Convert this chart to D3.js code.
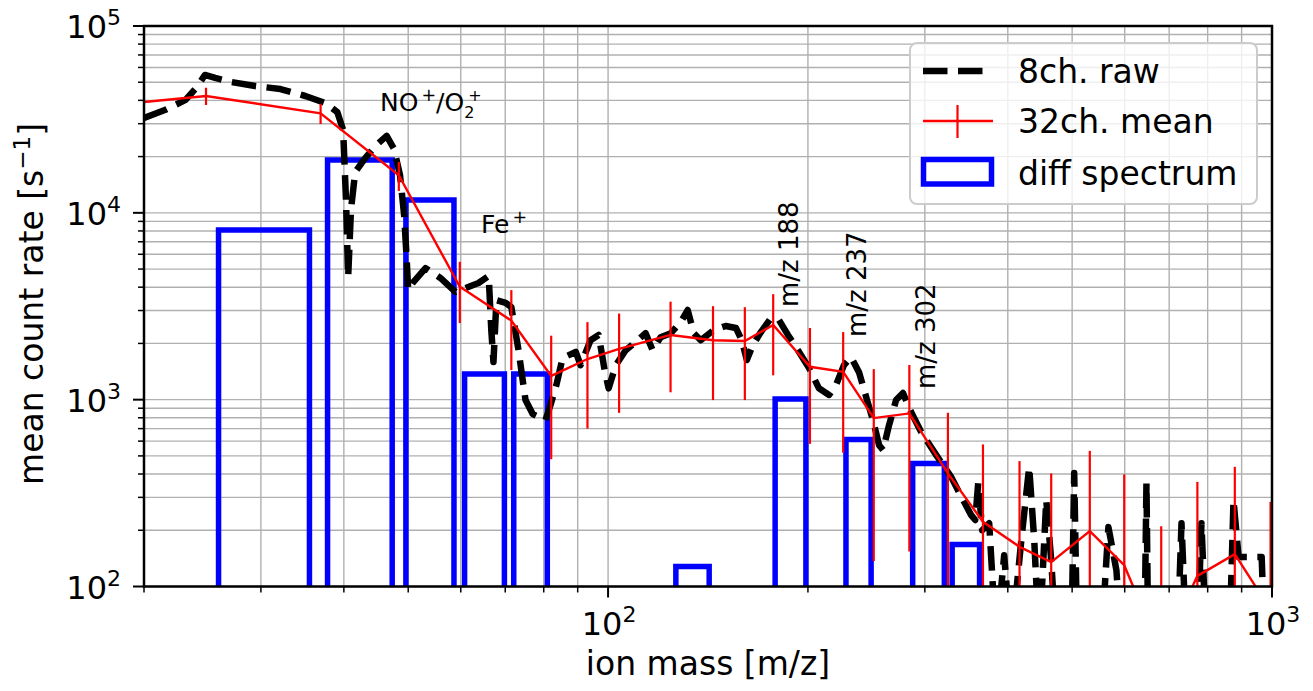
<!DOCTYPE html>
<html><head><meta charset="utf-8">
<script src="https://cdn.jsdelivr.net/npm/d3@7"></script>
<style>body{margin:0;background:#fff}</style>
</head><body>
<svg id="c" width="1313" height="691" xmlns="http://www.w3.org/2000/svg"></svg>
<script>
// ---------- data ----------
const rawMass = [20,21.5,23.1,24.1,24.7,25.6,27.0,29.4,32.1,35.0,37.5,39.1,39.9,40.3,40.6,41.0,41.6,43.1,44.8,46.4,47.6,48.6,49.3,49.7,50.0,50.9,53.1,55.9,58.9,61.0,63.8,66.1,66.7,67.2,67.9,70.1,71.5,73.3,75.1,77.0,80.5,81.9,83.6,85.4,89.4,90.9,94.1,96.8,98.8,100.2,102.7,106.3,110.8,113.9,116.7,120.0,124.3,128.7,131.8,134.6,137.9,144.3,150.4,155.8,159.0,161.8,165.2,169.9,175.9,180.9,186.6,193.2,200.7,207.8,215.2,220.5,226.6,232.2,238.8,245.5,250.6,256.0,259.5,265.0,271.5,278.1,286.0,296.2,312.1,328.8,342.6,352.3,357.3,361.0,366.0,375.0,384.2,395.0,404.8,419.2,430.8,438.4,446.1,457.1,465,473.2,498.7,503.6,508.9,553.4,567.0,583,593,642.5,647,651,720.5,730.6,743,772,783,796,863,875,890.6,964.8,975,1000];
const rawRate = [32200,35500,40200,47700,54700,52700,50200,47700,46000,42200,38700,34600,27700,11700,4530,10400,16500,19700,23100,25800,22000,15900,9730,5940,3860,4260,5060,4480,3770,3960,4210,4590,2360,1590,3410,3300,3130,1840,995,837,778,936,1200,1670,1800,1530,2080,2220,1440,1150,1530,1840,2080,2270,1840,2160,2270,2600,3020,2270,2080,2360,2480,2420,2080,1630,1960,2300,2730,2670,2220,1840,1480,1150,1060,1200,1530,1690,1400,995,778,571,537,731,995,1085,858,671,505,385,290,241,227,358,200,218,50,147,50,177,436,177,50,290,138,50,50,405,50,50,208,122,50,50,358,50,50,218,50,50,218,50,50,290,144,144,50,50];

const meanMass = [15.2,24.8,36.9,48.4,59.8,71.5,82.1,93.1,103.9,124.2,143.9,160.7,177.3,201.4,226,251.3,284.3,325,367,416.6,465,531.6,599,681,772,879,995];
const meanRate = [35600,42200,34100,15900,4020,2650,1340,1650,1870,2220,2080,2060,2510,1500,1410,797,844,403,222,163,135,198,130,44,114,149,75];
const meanErr  = [4000,4450,4200,2800,1450,1210,860,950,1020,1125,1085,1065,1160,920,890,660,690,448,354,306,268,334,268,166,249,288,209];

const diffLeft  = [25.9,37.8,49.6,60.8,72.1,126.5,178.5,228.2,287.6,329.8];
const diffRight = [35.5,47.3,58.6,69.8,81.0,142,198.6,249,321,362.7];
const diffRate  = [8090,19200,11700,1370,1370,128,1007,613,456,168];

const xDomain = [20, 1000];
const yDomain = [100, 100000];
const xMajorTicks = [100, 1000];
const xTickExp = ["2", "3"];
const yMajorTicks = [100, 1000, 10000, 100000];
const yTickExp = ["2", "3", "4", "5"];
const legendLabels = ["8ch. raw", "32ch. mean", "diff spectrum"];
const peakLabels = ["m/z 188", "m/z 237", "m/z 302"];

// ---------- layout ----------
const L = 144, R = 1272, T = 26, B = 586.5;
const svg = d3.select("#c");
const FONT = "DejaVu Sans, sans-serif";
const x = d3.scaleLog().domain(xDomain).range([L, R]);
const y = d3.scaleLog().domain(yDomain).range([B, T]);

svg.append("defs").append("clipPath").attr("id","clip")
  .append("rect").attr("x",L).attr("y",T).attr("width",R-L).attr("height",B-T);

const xMinor = [];
[10,100].forEach(d => { for (let k=2;k<=9;k++){ const v=d*k; if(v>=xDomain[0]&&v<=xDomain[1]) xMinor.push(v);} });
const yMinor = [];
[100,1000,10000].forEach(d => { for (let k=2;k<=9;k++) yMinor.push(d*k); });

// grid
const grid = svg.append("g").attr("stroke","#b0b0b0").attr("stroke-width",1.4);
xMinor.concat(xMajorTicks).forEach(v => grid.append("line").attr("x1",x(v)).attr("x2",x(v)).attr("y1",T).attr("y2",B));
yMinor.concat(yMajorTicks).forEach(v => grid.append("line").attr("y1",y(v)).attr("y2",y(v)).attr("x1",L).attr("x2",R));

const plot = svg.append("g").attr("clip-path","url(#clip)");

// diff spectrum bars
plot.selectAll("path.bar").data(diffRate).enter().append("path")
  .attr("class","bar")
  .attr("d",(d,i)=>`M${x(diffLeft[i])},${B+20}V${y(d)}H${x(diffRight[i])}V${B+20}`)
  .attr("fill","none").attr("stroke","#0000ff").attr("stroke-width",5.5);

// raw dashed line
const line = d3.line().x(d=>x(d[0])).y(d=>y(d[1]));
plot.append("path").datum(rawMass.map((m,i)=>[m,rawRate[i]]))
  .attr("d",line).attr("fill","none").attr("stroke","#000").attr("stroke-width",6.5)
  .attr("stroke-dasharray","24.5 10.5").attr("stroke-linejoin","round");

// mean line with error bars
plot.append("path").datum(meanMass.map((m,i)=>[m,meanRate[i]]))
  .attr("d",line).attr("fill","none").attr("stroke","#ff0000").attr("stroke-width",2.4);
plot.selectAll("line.err").data(meanMass).enter().append("line")
  .attr("x1",d=>x(d)).attr("x2",d=>x(d))
  .attr("y1",(d,i)=>{const lo=meanRate[i]-meanErr[i]; return lo>0? y(lo): B+40;})
  .attr("y2",(d,i)=>y(meanRate[i]+meanErr[i]))
  .attr("stroke","#ff0000").attr("stroke-width",2.2);

// spines
svg.append("rect").attr("x",L).attr("y",T).attr("width",R-L).attr("height",B-T)
  .attr("fill","none").attr("stroke","#000").attr("stroke-width",2.5);

// ticks
const tk = svg.append("g").attr("stroke","#000").attr("stroke-width",2);
xMajorTicks.forEach(v=>tk.append("line").attr("x1",x(v)).attr("x2",x(v)).attr("y1",B).attr("y2",B+11));
xMinor.forEach(v=>tk.append("line").attr("x1",x(v)).attr("x2",x(v)).attr("y1",B).attr("y2",B+6).attr("stroke-width",1.5));
yMajorTicks.forEach(v=>tk.append("line").attr("y1",y(v)).attr("y2",y(v)).attr("x1",L).attr("x2",L-11));
yMinor.forEach(v=>tk.append("line").attr("y1",y(v)).attr("y2",y(v)).attr("x1",L).attr("x2",L-6).attr("stroke-width",1.5));

// tick labels
xMajorTicks.forEach((v,i)=>{
  const t = svg.append("text").attr("x",x(v)+1).attr("y",635).attr("text-anchor","middle")
    .attr("font-family",FONT).attr("font-size",32).attr("fill","#000");
  t.append("tspan").text("10");
  t.append("tspan").attr("dy",-13).attr("font-size",22).text(xTickExp[i]);
});
yMajorTicks.forEach((v,i)=>{
  const t = svg.append("text").attr("x",121).attr("y",y(v)+12).attr("text-anchor","end")
    .attr("font-family",FONT).attr("font-size",32).attr("fill","#000");
  t.append("tspan").text("10");
  t.append("tspan").attr("dy",-13).attr("font-size",22).text(yTickExp[i]);
});

// axis labels
svg.append("text").attr("x",(L+R)/2).attr("y",675).attr("text-anchor","middle")
  .attr("font-family",FONT).attr("font-size",33).text("ion mass [m/z]");
const yl = svg.append("text").attr("transform","translate(43,304) rotate(-90)").attr("text-anchor","middle")
  .attr("font-family",FONT).attr("font-size",33);
yl.append("tspan").text("mean count rate [s");
yl.append("tspan").attr("dy",-13).attr("font-size",23).text("\u22121");
yl.append("tspan").attr("dy",13).text("]");

// annotations
const no = svg.append("text").attr("x",380).attr("y",111).attr("font-family",FONT).attr("font-size",25);
no.append("tspan").text("NO");
no.append("tspan").attr("dx",3).attr("dy",-10).attr("font-size",17.5).text("+");
no.append("tspan").attr("dy",10).text("/O");
no.append("tspan").attr("dy",7).attr("font-size",16).text("2");
no.append("tspan").attr("dx",-6).attr("dy",-17).attr("font-size",16).text("+");
const fe = svg.append("text").attr("x",481).attr("y",233).attr("font-family",FONT).attr("font-size",25);
fe.append("tspan").text("Fe");
fe.append("tspan").attr("dx",3).attr("dy",-10).attr("font-size",17.5).text("+");
const peakPos = [[798,307],[866,337],[935,389]];
peakLabels.forEach((s,i)=>{
  svg.append("text").attr("transform",`translate(${peakPos[i][0]},${peakPos[i][1]}) rotate(-90)`)
    .attr("font-family",FONT).attr("font-size",26).text(s);
});

// legend
const lg = svg.append("g");
lg.append("rect").attr("x",910).attr("y",43).attr("width",347).attr("height",161).attr("rx",7)
  .attr("fill","#fff").attr("fill-opacity",0.8).attr("stroke","#cccccc").attr("stroke-width",2);
lg.append("line").attr("x1",923).attr("x2",993).attr("y1",71).attr("y2",71)
  .attr("stroke","#000").attr("stroke-width",6.5).attr("stroke-dasharray","24.5 10.5");
lg.append("line").attr("x1",923).attr("x2",993).attr("y1",121).attr("y2",121)
  .attr("stroke","#ff0000").attr("stroke-width",2.4);
lg.append("line").attr("x1",957.5).attr("x2",957.5).attr("y1",105).attr("y2",138)
  .attr("stroke","#ff0000").attr("stroke-width",2.2);
lg.append("rect").attr("x",923.5).attr("y",159.5).attr("width",68).attr("height",24.5)
  .attr("fill","none").attr("stroke","#0000ff").attr("stroke-width",5.5);
[83,133,185].forEach((yy,i)=>{
  lg.append("text").attr("x",1018).attr("y",yy).attr("font-family",FONT).attr("font-size",33).text(legendLabels[i]);
});
</script>
</body></html>
